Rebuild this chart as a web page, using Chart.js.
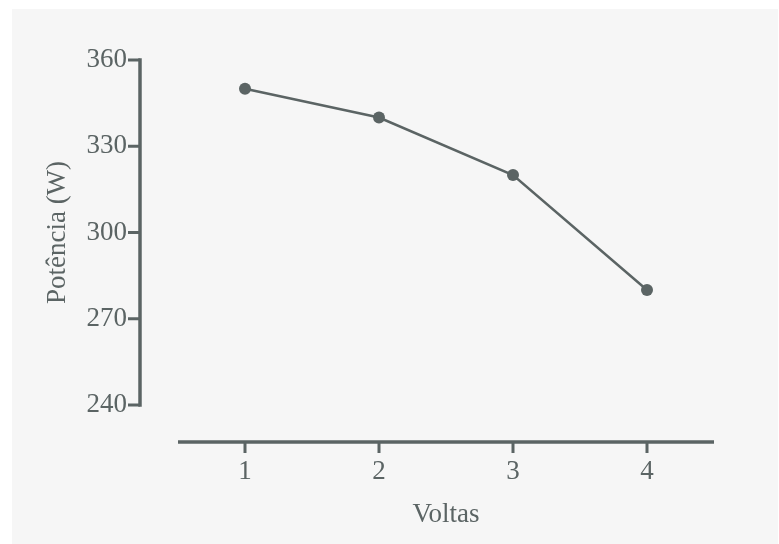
<!DOCTYPE html>
<html>
<head>
<meta charset="utf-8">
<script src="https://cdn.jsdelivr.net/npm/chart.js@4/dist/chart.umd.min.js"></script>
<style>
  html, body { margin: 0; padding: 0; background: #ffffff; }
  #wrap { width: 779px; height: 544px; }
</style>
</head>
<body>
<div id="wrap"><canvas id="chart-voltas"></canvas></div>
<script>
// power per lap
var voltas = [1, 2, 3, 4];
var potencia = [350, 340, 320, 280];
var yTicks = [240, 270, 300, 330, 360];
var xTicks = [1, 2, 3, 4];

var ink = "#5b6464";
var serif = "'Liberation Serif', 'Times New Roman', serif";

// gray panel behind everything
var panelBg = {
    id: "panelBg",
    beforeDraw: function (chart) {
        var ctx = chart.ctx;
        ctx.save();
        ctx.fillStyle = "#f6f6f6";
        ctx.fillRect(12, 9, 766, 535);
        ctx.restore();
    }
};

// detached axis lines with outward tick marks
var offsetAxes = {
    id: "offsetAxes",
    beforeDatasetsDraw: function (chart) {
        var ctx = chart.ctx;
        var xs = chart.scales.x, ys = chart.scales.y;
        var area = chart.chartArea;
        var axX = area.left - 38;
        var axY = area.bottom + 37;
        ctx.save();
        ctx.strokeStyle = ink;
        ctx.lineWidth = 3.5;
        ctx.lineCap = "butt";

        var yTop = ys.getPixelForValue(yTicks[yTicks.length - 1]);
        var yBot = ys.getPixelForValue(yTicks[0]);
        ctx.beginPath();
        ctx.moveTo(axX, yTop - 1.75);
        ctx.lineTo(axX, yBot + 1.75);
        ctx.stroke();
        ctx.lineWidth = 3;
        yTicks.forEach(function (v) {
            var p = ys.getPixelForValue(v);
            ctx.beginPath();
            ctx.moveTo(axX - 12, p);
            ctx.lineTo(axX, p);
            ctx.stroke();
        });

        ctx.lineWidth = 3.5;
        ctx.beginPath();
        ctx.moveTo(xs.getPixelForValue(xs.min), axY);
        ctx.lineTo(xs.getPixelForValue(xs.max), axY);
        ctx.stroke();
        ctx.lineWidth = 3;
        xTicks.forEach(function (v) {
            var p = xs.getPixelForValue(v);
            ctx.beginPath();
            ctx.moveTo(p, axY);
            ctx.lineTo(p, axY + 11);
            ctx.stroke();
        });
        ctx.restore();
    }
};

var chart = new Chart(document.getElementById("chart-voltas"), {
    type: "line",
    data: {
        datasets: [{
            label: "Potência",
            data: voltas.map(function (v, i) { return { x: v, y: potencia[i] }; }),
            borderColor: ink,
            backgroundColor: ink,
            borderWidth: 2.5,
            pointRadius: 6,
            pointHoverRadius: 6,
            pointBorderWidth: 0,
            fill: false,
            tension: 0,
            clip: false
        }]
    },
    options: {
        responsive: true,
        maintainAspectRatio: false,
        animation: false,
        layout: { padding: { top: 60, right: 65, left: 0, bottom: 0 } },
        plugins: {
            legend: { display: false },
            tooltip: { enabled: false }
        },
        scales: {
            x: {
                type: "linear",
                min: 0.5,
                max: 4.5,
                afterBuildTicks: function (s) { s.ticks = xTicks.map(function (v) { return { value: v }; }); },
                afterFit: function (s) { s.height = 139; s.paddingLeft = 0; s.paddingRight = 0; },
                grid: { display: false, drawTicks: false },
                border: { display: false },
                ticks: {
                    color: ink,
                    padding: 51,
                    maxRotation: 0,
                    font: { family: serif, size: 27 }
                },
                title: {
                    display: true,
                    text: "Voltas",
                    color: ink,
                    padding: { top: 0, bottom: 13 },
                    font: { family: serif, size: 27, lineHeight: 1.2 }
                }
            },
            y: {
                min: 240,
                max: 360,
                afterBuildTicks: function (s) { s.ticks = yTicks.map(function (v) { return { value: v }; }); },
                afterFit: function (s) { s.width = 178; s.paddingTop = 0; s.paddingBottom = 0; },
                grid: { display: false, drawTicks: false },
                border: { display: false },
                ticks: {
                    color: ink,
                    padding: 51,
                    font: { family: serif, size: 27 }
                },
                title: {
                    display: true,
                    text: "Potência (W)",
                    color: ink,
                    padding: { top: 42, bottom: 0 },
                    font: { family: serif, size: 27, lineHeight: 1.2 }
                }
            }
        }
    },
    plugins: [panelBg, offsetAxes]
});
</script>
</body>
</html>
